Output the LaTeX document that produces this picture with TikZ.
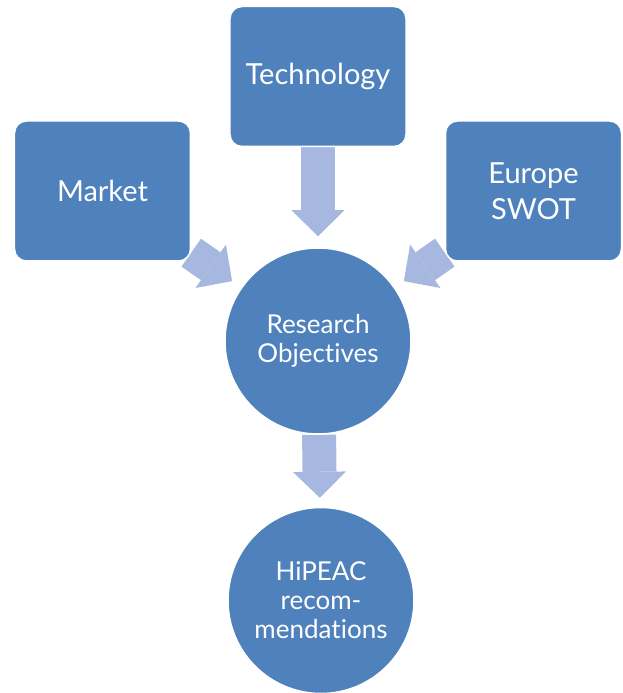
\documentclass[tikz,border=0pt]{standalone}
\usepackage{fontspec}
\setmainfont[Ligatures={NoCommon}]{Lato}
\usetikzlibrary{arrows.meta, positioning, backgrounds}
\definecolor{boxblue}{RGB}{79,129,189}
\definecolor{arrowblue}{RGB}{166,184,223}

\begin{document}
\begin{tikzpicture}[
    x=1pt, y=1pt,
    node distance=72pt,
    topic/.style={rectangle, rounded corners=12pt, fill=boxblue, draw=white, line width=1.5pt,
      minimum width=176pt, minimum height=140pt, text=white, align=center,
      font=\fontsize{29}{36}\selectfont},
    goal/.style={circle, fill=boxblue, draw=white, line width=1.5pt, minimum size=186pt,
      text=white, align=center, font=\fontsize{26}{29}\selectfont},
    flow/.style={draw=arrowblue, line width=34pt,
      -{Triangle[length=26pt, width=53pt, line width=0pt]}, shorten >=10pt},
  ]
  \useasboundingbox (-318,-352) rectangle (304,341);

  \node[goal] (research) {Research\\Objectives};
  \node[goal, below=of research, xshift=3pt] (hipeac) {HiPEAC\\recom-\\mendations};
  \node[topic, above=100pt of research] (tech) {Technology};
  \node[topic, left=33pt of research, yshift=150pt] (market) {Market};
  \node[topic, right=33pt of research, yshift=150pt] (europe) {Europe\\SWOT};

  % block arrows go behind the boxes
  \begin{scope}[on background layer]
    \draw[flow, shorten >=11pt] (tech) -- (research);
    \draw[flow, shorten >=11pt] (market) -- (research);
    \draw[flow, shorten >=11pt] (europe) -- (research);
    \draw[flow, shorten >=9pt] (research) -- (hipeac);
  \end{scope}
\end{tikzpicture}
\end{document}
